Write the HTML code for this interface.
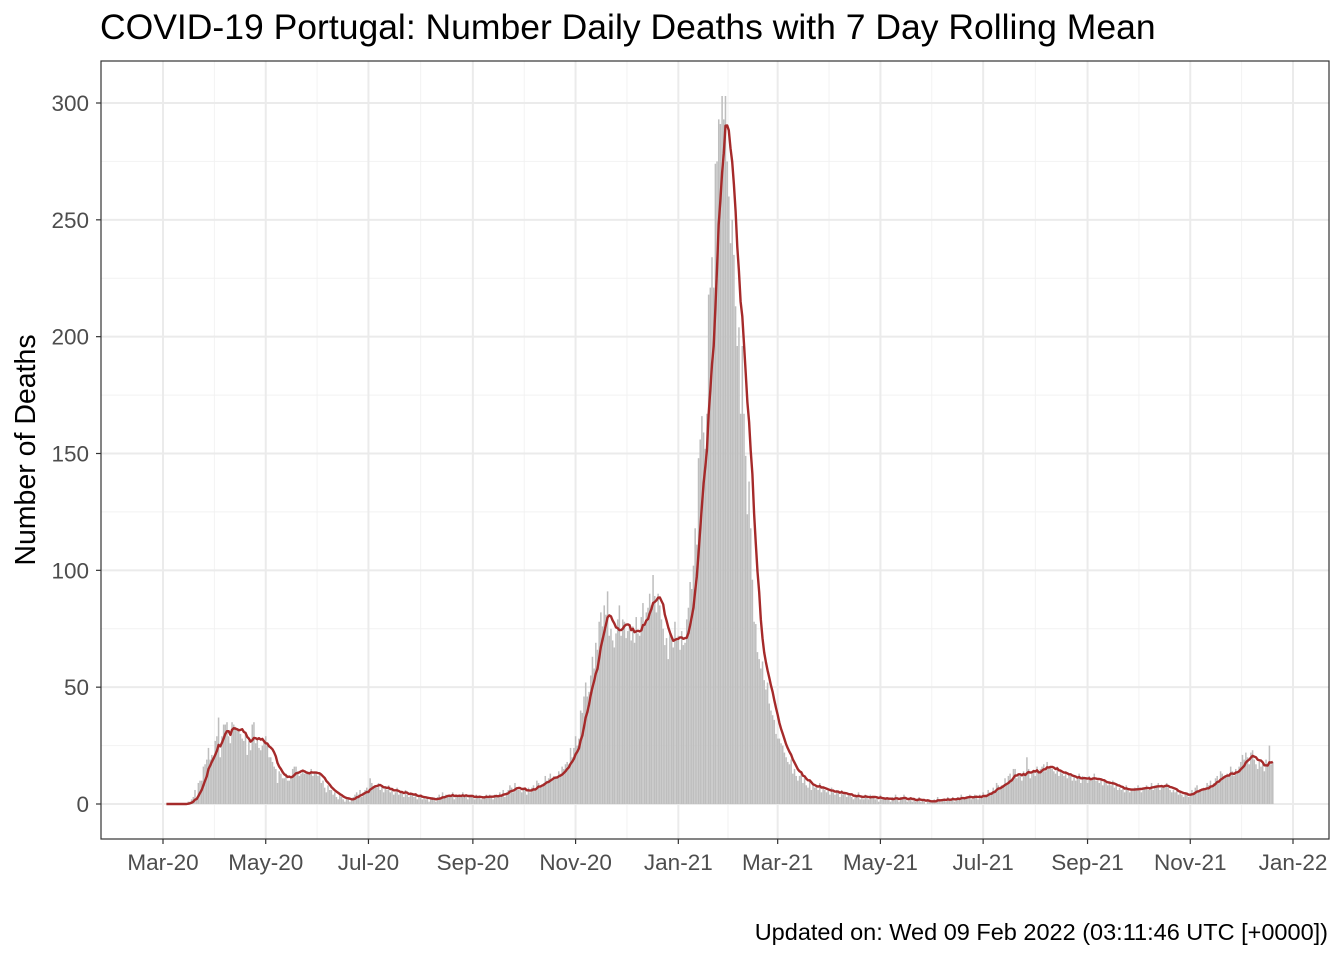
<!DOCTYPE html>
<html><head><meta charset="utf-8"><style>
body{margin:0;background:#fff;}
svg{display:block;font-family:"Liberation Sans",sans-serif;}
</style></head><body>
<svg id="chart" width="1344" height="960" xmlns="http://www.w3.org/2000/svg">
<rect width="1344" height="960" fill="#fff"/>
<text x="100" y="39" font-size="35.5" fill="#000">COVID-19 Portugal: Number Daily Deaths with 7 Day Rolling Mean</text>
<rect x="101" y="61" width="1228" height="778" fill="#fff"/>
<g id="grid"></g>
<g id="bars"></g>
<g id="line"></g>
<rect x="101" y="61" width="1228" height="778" fill="none" stroke="#333" stroke-width="1.2"/>
<g id="axes"></g>
<text transform="translate(35,450) rotate(-90)" text-anchor="middle" font-size="28.5" fill="#000">Number of Deaths</text>
<text x="1328" y="940" text-anchor="end" font-size="23.5" fill="#000">Updated on: Wed 09 Feb 2022 (03:11:46 UTC [+0000])</text>
</svg>
<script>
// daily deaths, starting 2020-03-03
const startDay = 2; // days after 2020-03-01
const dailyDeaths = [
0,0,0,0,0,0,0, 0,0,0,0,0,0,1, 1,2,3,6,2,9,10, 10,16,17,19,24,19,21,
20,27,29,37,20,29,34, 34,35,29,26,35,34,33, 32,32,30,28,27,31,21, 27,23,34,35,26,28,24,
23,25,27,29,25,20,20, 18,16,15,9,14,13,11, 11,13,10,10,12,15,16, 16,14,12,13,14,13,13,
14,13,15,12,14,13,12, 13,9,10,7,5,8,6, 6,4,5,3,2,4,3, 2,1,3,2,1,2,3,
4,5,4,6,3,5,6, 7,5,11,9,7,8,7, 9,6,8,5,7,6,8, 5,6,4,5,7,4,5,
5,3,6,4,3,5,4, 3,4,2,3,4,2,3, 2,3,1,2,3,2,1, 3,4,2,5,3,4,3,
4,3,5,2,4,3,4, 3,5,3,4,2,3,4, 3,2,4,3,3,2,3, 3,4,3,4,3,2,4,
4,3,5,4,6,3,5, 6,8,7,5,9,7,6, 6,5,7,6,4,7,5, 7,8,6,10,9,7,8,
9,12,10,11,13,10,12, 11,12,14,13,16,15,17, 18,17,24,20,24,29,25, 28,40,39,46,52,46,48,
55,63,58,69,66,78,82, 76,85,81,91,72,75,70, 67,73,79,85,72,79,78, 71,74,77,70,76,69,80,
73,72,80,86,77,82,84, 90,85,98,89,82,90,85, 79,75,68,71,62,74,72, 67,78,70,72,66,74,68,
69,79,84,95,92,102,118, 111,148,156,166,159,152,167, 218,221,234,221,274,275,293, 291,303,293,303,275,260,240,
250,235,213,196,204,167,196, 167,149,124,138,118,96,78, 77,65,62,58,61,53,49, 52,43,40,38,36,30,28,
28,26,25,22,20,18,17, 19,13,15,12,10,12,14, 9,11,8,7,10,6,8, 7,8,6,9,5,7,6,
5,6,4,7,5,4,6, 5,3,6,4,5,3,4, 4,3,2,4,3,5,2, 3,2,4,3,2,4,3,
3,2,3,1,4,2,2, 2,3,2,1,3,2,4, 2,1,3,2,4,2,1, 2,3,1,2,1,2,3,
1,2,1,0,2,1,1, 1,2,1,3,2,1,2, 2,1,3,2,2,3,1, 2,3,2,4,3,2,3,
3,4,2,3,4,3,2, 4,3,5,3,4,6,5, 5,7,6,9,8,7,8, 8,11,9,12,13,10,15,
15,11,13,12,10,14,12, 20,15,11,13,14,12,16, 14,15,16,17,14,18,15, 16,15,14,13,16,12,14,
13,12,14,11,13,12,10, 12,10,11,13,9,12,11, 11,9,12,10,11,13,10, 10,9,11,8,10,9,8,
9,8,10,7,8,6,7, 6,7,5,8,6,5,6, 6,7,6,8,7,5,7, 7,8,6,7,9,6,8,
8,9,6,8,7,8,9, 7,6,5,6,5,6,4, 5,4,3,5,4,3,4, 6,5,7,8,5,6,6,
7,6,9,8,10,7,9, 11,12,10,14,13,11,12, 13,12,16,14,12,15,13, 16,18,21,19,22,20,17,
22,23,19,17,15,18,16, 17,14,19,16,25,17,18
];
const yTicks = [0,50,100,150,200,250,300];
const xTickLabels = ["Mar-20","May-20","Jul-20","Sep-20","Nov-20","Jan-21","Mar-21","May-21","Jul-21","Sep-21","Nov-21","Jan-22"];
const xTickDays = [0,61,122,184,245,306,365,426,487,549,610,671];

const NS="http://www.w3.org/2000/svg";
const x = d => 163 + d*(1130/671);
const y = v => 804 - v*(701/300);
function mk(tag, attrs, parent){const e=document.createElementNS(NS,tag);for(const k in attrs)e.setAttribute(k,attrs[k]);parent.appendChild(e);return e;}
const grid=document.getElementById('grid'), bars=document.getElementById('bars'), line=document.getElementById('line'), axes=document.getElementById('axes');

for(let i=0;i<yTicks.length-1;i++){
  const g=mk('line',{x1:101,x2:1329,y1:y((yTicks[i]+yTicks[i+1])/2),y2:y((yTicks[i]+yTicks[i+1])/2),stroke:'#f2f2f2','stroke-width':1},grid);
  
  
}
for(let i=0;i<xTickDays.length-1;i++){
  const m=(xTickDays[i]+xTickDays[i+1])/2;
  const g=mk('line',{x1:x(m),x2:x(m),y1:61,y2:839,stroke:'#f2f2f2','stroke-width':1},grid);
  
  
}
yTicks.forEach(v=>{
  const g=mk('line',{x1:101,x2:1329,y1:y(v),y2:y(v),stroke:'#ebebeb','stroke-width':2},grid);
  
  
  const t=mk('line',{x1:96,x2:101,y1:y(v),y2:y(v),stroke:'#333','stroke-width':1.2},axes);
  
  
  const l=mk('text',{x:89,y:y(v)+8,'text-anchor':'end','font-size':22.5,fill:'#4d4d4d'},axes);
  l.textContent=v;
  
  
});
xTickDays.forEach((d,i)=>{
  const g=mk('line',{x1:x(d),x2:x(d),y1:61,y2:839,stroke:'#ebebeb','stroke-width':2},grid);
  
  
  const t=mk('line',{x1:x(d),x2:x(d),y1:839,y2:844,stroke:'#333','stroke-width':1.2},axes);
  
  
  const l=mk('text',{x:x(d),y:870,'text-anchor':'middle','font-size':22.5,fill:'#4d4d4d'},axes);
  l.textContent=xTickLabels[i];
  
  
});
const bw=1130/671*0.9;
dailyDeaths.forEach((v,i)=>{
  const d=startDay+i;
  const b=mk('rect',{x:x(d)-bw/2,y:y(v),width:bw,height:Math.max(0,y(0)-y(v)),fill:'#bebebe'},bars);
  
  
});
let pts=[];
dailyDeaths.forEach((v,i)=>{
  const s=Math.max(0,i-6); let sum=0;
  for(let j=s;j<=i;j++)sum+=dailyDeaths[j];
  pts.push(x(startDay+i).toFixed(1)+','+y(sum/(i-s+1)).toFixed(1));
});
const pl=mk('polyline',{points:pts.join(' '),fill:'none',stroke:'#a52a2a','stroke-width':2.4,'stroke-linejoin':'round'},line);


</script>
</body></html>
